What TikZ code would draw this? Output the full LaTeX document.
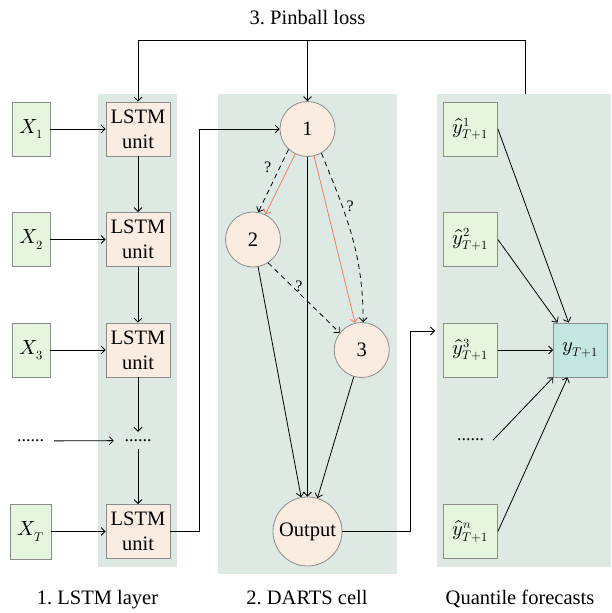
\documentclass[tikz,border=0pt]{standalone}
\usepackage{fontspec}
\usepackage{unicode-math}
\setmainfont{Liberation Serif}
\DeclareMathSizes{20.5}{20.5}{12.5}{10}
\usetikzlibrary{arrows.meta}

\definecolor{panelbg}{RGB}{223,233,228}
\definecolor{inputfill}{RGB}{230,245,222}
\definecolor{unitfill}{RGB}{250,236,224}
\definecolor{targetfill}{RGB}{196,230,224}
\definecolor{edgegray}{RGB}{140,140,140}
\definecolor{opline}{RGB}{242,128,100}

\begin{document}
\begin{tikzpicture}[x=1pt,y=1pt,
  font=\fontsize{20.5}{25}\selectfont,
  inbox/.style={draw=edgegray, fill=inputfill, line width=0.8pt, inner sep=0pt,
                minimum width=38pt, minimum height=54pt},
  unitbox/.style={draw=edgegray, fill=unitfill, line width=0.8pt, inner sep=0pt,
                  minimum width=64pt, minimum height=54pt, align=center},
  qbox/.style={draw=edgegray, fill=inputfill, line width=0.8pt, inner sep=0pt,
               minimum width=54pt, minimum height=54pt},
  targetbox/.style={draw=edgegray, fill=targetfill, line width=0.8pt, inner sep=0pt,
                    minimum width=54pt, minimum height=54pt},
  opnode/.style={circle, draw=edgegray, fill=unitfill, line width=0.8pt, inner sep=0pt,
                 minimum size=55pt},
  dotsnode/.style={inner sep=0pt, font=\fontsize{18}{18}\selectfont},
  qmark/.style={inner sep=0pt, font=\fontsize{16}{16}\selectfont},
  arr/.style={line width=0.8pt, -{Straight Barb[length=4pt,width=8pt]}},
  candidate/.style={arr, dash pattern=on 5pt off 4pt},
  chosen/.style={line width=0.8pt, draw=opline, -{Straight Barb[length=4pt,width=8pt]}},
  caption/.style={anchor=base, inner sep=0pt}
]
\useasboundingbox (0,0) rectangle (611,-613);

% background panels
\fill[panelbg] (98,-94)  rectangle (177,-567);
\fill[panelbg] (218,-94) rectangle (397,-574);
\fill[panelbg] (437,-94) rectangle (611,-567);
\coordinate (quanttop) at (525.5,-94);

% inputs
\node[inbox] (x1) at (31,-129)   {$X_1$};
\node[inbox] (x2) at (31,-239.5) {$X_2$};
\node[inbox] (x3) at (31,-350)   {$X_3$};
\node[inbox, minimum width=41pt, minimum height=55pt] (xT) at (30.5,-531.5) {$X_T$};
\node[dotsnode, minimum width=47pt, minimum height=17pt] (xdots) at (30.5,-441) {......};

% LSTM layer
\node[unitbox] (l1) at (138,-129)   {LSTM\\unit};
\node[unitbox] (l2) at (138,-239.5) {LSTM\\unit};
\node[unitbox] (l3) at (138,-350)   {LSTM\\unit};
\node[unitbox] (lT) at (138,-531.5) {LSTM\\unit};
\node[dotsnode, minimum width=48pt, minimum height=17pt] (ldots) at (138,-440.5) {......};

% DARTS cell
\node[opnode] (c1) at (307.5,-129)   {1};
\node[opnode] (c2) at (253,-239.5)   {2};
\node[opnode] (c3) at (361.7,-350)   {3};
\node[opnode, minimum size=69pt] (out) at (307.5,-531.5) {Output};

% quantile forecasts
\node[qbox] (q1) at (470.5,-129)   {$\hat{y}^{1}_{T+1}$};
\node[qbox] (q2) at (470.5,-239.5) {$\hat{y}^{2}_{T+1}$};
\node[qbox] (q3) at (470.5,-350)   {$\hat{y}^{3}_{T+1}$};
\node[qbox] (qn) at (470.5,-531.5) {$\hat{y}^{n}_{T+1}$};
\node[dotsnode, minimum width=45pt, minimum height=17pt] (qdots) at (470.5,-440) {......};
\node[targetbox] (yT) at (580.5,-350) {$y_{T+1}$};

% captions
\node[caption] (loss)   at (307.5,-24)  {3.\ Pinball loss};
\node[caption] (cap1)   at (97.5,-604)  {1.\ LSTM layer};
\node[caption] (cap2)   at (307,-604)   {2.\ DARTS cell};
\node[caption] (cap3)   at (520,-604)   {Quantile forecasts};

% inputs into LSTM units
\draw[arr] (x1) -- (l1);
\draw[arr] (x2) -- (l2);
\draw[arr] (x3) -- (l3);
\draw[arr] (xT) -- (lT);
\draw[arr] (xdots) -- (ldots);

% recurrence along the layer
\draw[arr] (l1) -- (l2);
\draw[arr] (l2) -- (l3);
\draw[arr] (l3) -- (ldots);
\draw[arr] (ldots) -- (lT);

% pinball loss feedback
\coordinate (loopR) at (525.5,-40);
\draw[arr] (quanttop) -- (loopR) -| (l1.north);
\draw[arr] (c1.north |- loopR) -- (c1.north);

% last hidden state into the cell
\draw[arr] (lT.east) -- ++(29,0) |- (c1.west);

% candidate operations (dashed) and selected ones (orange)
\draw[candidate] (c1.227) -- node[qmark, pos=0.29, xshift=-12pt] {?} (c2.79);
\draw[candidate] (c1.-60) to[out=-68, in=90]
      node[qmark, pos=0.31, xshift=8pt] {?} (c3.87);
\draw[candidate] (c2.-57) -- node[qmark, pos=0.43, yshift=7pt] {?} (c3.142);
\draw[chosen] (c1) -- (c2);
\draw[chosen] (c1) -- (c3);

% into the cell output
\draw[arr] (c1) -- (out);
\draw[arr] (c2) -- (out);
\draw[arr] (c3) -- (out);

% cell output to the forecasts
\coordinate (fcTurn) at (410,-331);
\coordinate (fcIn) at (435,-331);
\draw[arr] (out.east) -| (fcTurn) -- (fcIn);

% forecasts combined into the target
\draw[arr] (q1.east) -- ([xshift=15.5pt]yT.north west);
\draw[arr] (q2.east) -- ([xshift=4.5pt]yT.north west);
\draw[arr] (q3.east) -- (yT.west);
\draw[arr] (qdots.east) -- (yT.south west);
\draw[arr] (qn.east) -- ([xshift=14.5pt]yT.south west);
\end{tikzpicture}
\end{document}
